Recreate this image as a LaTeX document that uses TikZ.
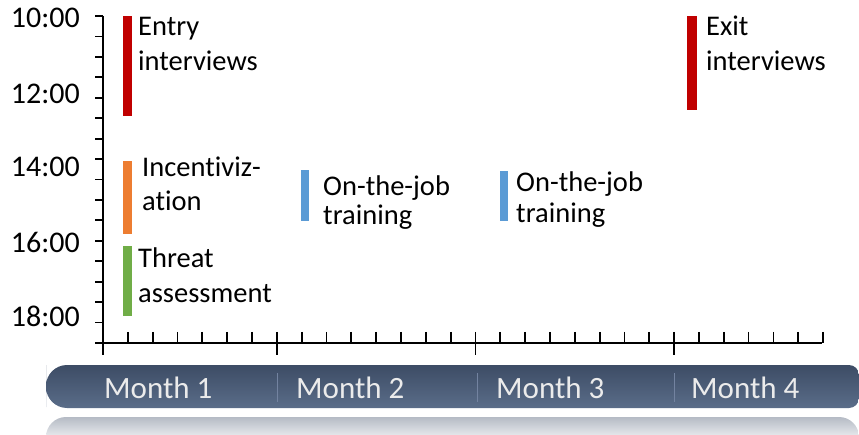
\documentclass[tikz,border=0pt]{standalone}
\usepackage{fontspec}
\setmainfont{Carlito}[Ligatures=NoCommon]
\usepackage{xcolor}
\usepackage{tikz}

\definecolor{barred}{HTML}{C00000}
\definecolor{barorange}{HTML}{ED7D31}
\definecolor{bargreen}{HTML}{70AD47}
\definecolor{barblue}{HTML}{5B9BD5}
\definecolor{bandtop}{HTML}{3D4C65}
\definecolor{bandbot}{HTML}{5A6D89}
\definecolor{bandline}{HTML}{7383A0}
\definecolor{shadowtop}{HTML}{B5BBC5}

\begin{document}
\begin{tikzpicture}[x=1pt,y=-1pt,
    axis/.style={line width=1.8pt,black},
    lbl/.style={anchor=base west,inner sep=0pt,align=left,font=\fontsize{28.5}{35}\selectfont},
    hour/.style={anchor=base east,inner sep=0pt,font=\fontsize{30}{34}\selectfont},
    month/.style={anchor=base west,inner sep=0pt,text=white!92!black,font=\fontsize{31}{34}\selectfont}]
    \useasboundingbox (0,0) rectangle (859,435);

    % month band and its reflection
    \shade[top color=shadowtop,bottom color=white,rounded corners=20pt] (46,445) -- (46,417) -- (859,417) -- (859,445);
    \shade[top color=bandtop,bottom color=bandbot] (46,386) [rounded corners=21pt] -- (46,365) [rounded corners=10pt] -- (859,365) -- (859,408) [rounded corners=21pt] -- (46,408) -- cycle;
    \draw[bandline,line width=0.8pt] (277,373) -- (277,402);
    \draw[bandline,line width=0.8pt] (477,373) -- (477,402);
    \draw[bandline,line width=0.8pt] (674,373) -- (674,402);
    \node[month] (m1) at (104,398) {Month 1};
    \node[month] (m2) at (296,398) {Month 2};
    \node[month] (m3) at (496,398) {Month 3};
    \node[month] (m4) at (691,398) {Month 4};

    % axes
    \draw[axis] (103,16) -- (103,355);
    \draw[axis] (96,343) -- (822,343);
    \foreach \k in {0,...,16}
        \draw[axis] (95,{16+20.44*\k}) -- (103,{16+20.44*\k});
    \foreach \k in {1,...,29}
        \draw[axis] ({103+24.83*\k},332) -- ({103+24.83*\k},343);
    \foreach \k in {7,15,23}
        \draw[axis] ({103+24.83*\k},343) -- ({103+24.83*\k},355);

    % hours
    \node[hour] (h10) at (80,28) {10:00};
    \node[hour] (h12) at (80,104) {12:00};
    \node[hour] (h14) at (80,177) {14:00};
    \node[hour] (h16) at (80,253) {16:00};
    \node[hour] (h18) at (80,327) {18:00};

    % activities
    \fill[barred] (123,16) rectangle (132,116);
    \fill[barorange] (123,161) rectangle (132,234);
    \fill[bargreen] (123,246) rectangle (132,316);
    \fill[barblue] (301,170) rectangle (309,221);
    \fill[barblue] (500,171) rectangle (508,221);
    \fill[barred] (687,16) rectangle (697,110);

    \node[lbl] (entry) at (138,71) {Entry\\interviews};
    \node[lbl,font=\fontsize{28.5}{34}\selectfont] (incent) at (142,211) {Incentiviz-\\ation};
    \node[lbl] (threat) at (138,303) {Threat\\assessment};
    \node[lbl,font=\fontsize{28.5}{29}\selectfont] (job1) at (323,225) {On-the-job\\training};
    \node[lbl,font=\fontsize{28.5}{31}\selectfont] (job2) at (516,223) {On-the-job\\training};
    \node[lbl] (exit) at (706,71) {Exit\\interviews};
\end{tikzpicture}
\end{document}
